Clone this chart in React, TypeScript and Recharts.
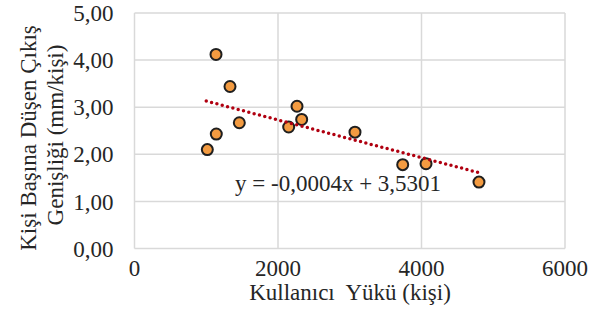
import { ScatterChart, Scatter, XAxis, YAxis, CartesianGrid } from "recharts";

// Kullanıcı yükü (kişi) and çıkış genişliği per kişi (mm/kişi)
const userLoad = [1015, 1140, 1136, 1331, 1461, 2149, 2265, 2330, 3073, 3738, 4063, 4801];
const widthPerPerson = [2.1, 2.43, 4.12, 3.44, 2.67, 2.58, 3.02, 2.74, 2.47, 1.78, 1.8, 1.41];

// linear trendline ends, as drawn in the picture
const trendX = [1000, 4800];
const trendY = [3.13, 1.61];

const xTicks = [0, 2000, 4000, 6000];
const yTicks = [0, 1, 2, 3, 4, 5];
const equation = "y = -0,0004x + 3,5301";

const points = userLoad.map((x, i) => ({ x, y: widthPerPerson[i] }));
const trend = trendX.map((x, i) => ({ x, y: trendY[i] }));

const FONT = "'Liberation Serif', 'Times New Roman', serif";
const TEXT = "#262626";

const fmtY = (v: number) => v.toFixed(2).replace(".", ",");

const Dot = (props: any) => (
  <circle cx={props.cx} cy={props.cy} r={5.5} fill="#F39B41" stroke="#1f1f1f" strokeWidth={2} />
);

const NoDot = () => <g />;

export default function App() {
  return (
    <div style={{ position: "absolute", left: 0, top: 0, width: 607, height: 331, background: "#fff" }}>
      <ScatterChart width={607} height={331} margin={{ top: 13, right: 42, bottom: 0, left: 0 }}>
        <CartesianGrid stroke="#d9d9d9" strokeWidth={1.5} />
        <XAxis
          type="number"
          dataKey="x"
          domain={[0, 6000]}
          ticks={xTicks}
          height={82.5}
          axisLine={false}
          tickLine={false}
          tickMargin={5}
          tick={{ fontFamily: FONT, fontSize: 23, fill: TEXT }}
          label={{
            content: () => (
              <text x={350} y={300} textAnchor="middle" fontFamily={FONT} fontSize={23} fill={TEXT} style={{ whiteSpace: "pre" }}>
                Kullanıcı  Yükü (kişi)
              </text>
            ),
          }}
        />
        <YAxis
          type="number"
          dataKey="y"
          domain={[0, 5]}
          ticks={yTicks}
          width={134.5}
          axisLine={false}
          tickLine={false}
          tickMargin={15}
          tickFormatter={fmtY}
          tick={{ fontFamily: FONT, fontSize: 23, fill: TEXT }}
          label={{
            content: () => (
              <g fontFamily={FONT} fontSize={23} fill={TEXT} style={{ whiteSpace: "pre" }}>
                <text x={36} y={138} textAnchor="middle" transform="rotate(-90 36 138)">
                  Kişi Başına Düşen Çıkış
                </text>
                <text x={63} y={135} textAnchor="middle" transform="rotate(-90 63 135)">
                  Genişliği  (mm/kişi)
                </text>
              </g>
            ),
          }}
        />
        <Scatter data={points} shape={Dot} isAnimationActive={false} />
        <Scatter
          data={trend}
          shape={NoDot}
          line={{ stroke: "#B00010", strokeWidth: 3.5, strokeDasharray: "0 5.5", strokeLinecap: "round" }}
          isAnimationActive={false}
        />
      </ScatterChart>
      <div
        style={{
          position: "absolute",
          left: 235,
          top: 171,
          fontFamily: FONT,
          fontSize: 23,
          color: TEXT,
          whiteSpace: "pre",
          lineHeight: "26px",
        }}
      >
        {equation}
      </div>
    </div>
  );
}
